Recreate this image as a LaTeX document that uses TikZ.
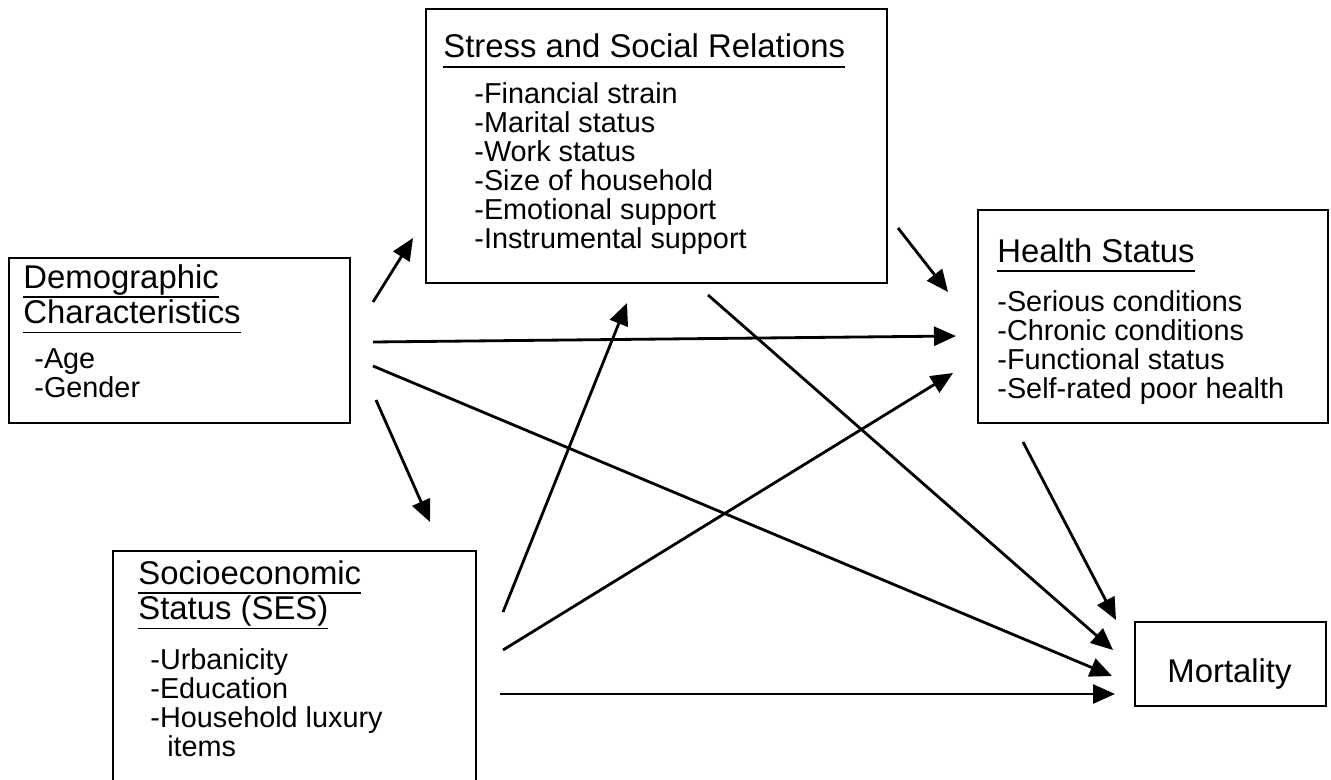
\documentclass[tikz,border=0pt]{standalone}
\usepackage{fontspec}
\setmainfont{Liberation Sans}
\usetikzlibrary{arrows.meta}
\newcommand\uln[1]{\setbox0\hbox{#1}\rlap{\rule[-5.6pt]{\wd0}{1.1pt}}\box0}

\begin{document}
\begin{tikzpicture}[x=0.02cm, y=-0.02cm, line width=1.6pt,
    box/.style={draw, line width=1.6pt, inner sep=0pt},
    ttl/.style={anchor=north west, inner sep=0pt, align=left, font=\fontsize{18.7}{19}\selectfont},
    lst/.style={anchor=north west, inner sep=0pt, align=left, font=\fontsize{16.4}{16.5}\selectfont},
    arr/.style={-{Triangle[length=0.44cm, width=0.38cm]}}]
    \path[use as bounding box, fill=white] (0,0) rectangle (1331,780);
    \clip (0,0) rectangle (1331,780);
    \node[box, minimum width=6.82cm, minimum height=3.30cm] (demo) at (179.5,340.5) {};
    \node[box, minimum width=9.22cm, minimum height=5.48cm] (stress) at (656.5,146) {};
    \node[box, minimum width=7.00cm, minimum height=4.26cm] (health) at (1153,316.5) {};
    \node[box, minimum width=7.26cm, minimum height=4.98cm] (ses) at (294.5,675.5) {};
    \node[box, minimum width=3.82cm, minimum height=1.68cm] (mort) at (1230.5,664) {};
    \node[ttl] (demoT) at (22,263) {\uln{Demographic}\\\uln{Characteristics}};
    \node[lst] (demoL) at (33,347) {-Age\\-Gender};
    \node[ttl] (stressT) at (442,32.5) {\uln{Stress and Social Relations}};
    \node[lst] (stressL) at (473,81) {-Financial strain\\-Marital status\\-Work status\\-Size of household\\-Emotional support\\-Instrumental support};
    \node[ttl] (healthT) at (996,237) {\uln{Health Status}};
    \node[lst] (healthL) at (996,289) {-Serious conditions\\-Chronic conditions\\-Functional status\\-Self-rated poor health};
    \node[ttl] (sesT) at (137,559) {\uln{Socioeconomic}\\\uln{Status (SES)}};
    \node[lst] (sesL) at (149,647) {-Urbanicity\\-Education\\-Household luxury\\\hspace*{9.6pt}items};
    \node[font=\fontsize{18.7}{19}\selectfont, anchor=base west, inner sep=0pt] (mortT) at (1166,682) {Mortality};
    \coordinate (a1) at (373,302);  \coordinate (b1) at (413,238);
    \coordinate (a2) at (373,342);  \coordinate (b2) at (956,336);
    \coordinate (a3) at (373,366);  \coordinate (b3) at (1112,676);
    \coordinate (a4) at (376,400);  \coordinate (b4) at (430,522);
    \coordinate (a5) at (898,228);  \coordinate (b5) at (948,292);
    \coordinate (a6) at (708,295);  \coordinate (b6) at (1113,650);
    \coordinate (a7) at (1023,442); \coordinate (b7) at (1116,620);
    \coordinate (a8) at (503,612);  \coordinate (b8) at (627,303);
    \coordinate (a9) at (503,650);  \coordinate (b9) at (953,373);
    \coordinate (a10) at (500,694); \coordinate (b10) at (1115,694);
    \foreach \i in {1,...,10}
        \draw[arr] (a\i) -- (b\i);
\end{tikzpicture}
\end{document}
